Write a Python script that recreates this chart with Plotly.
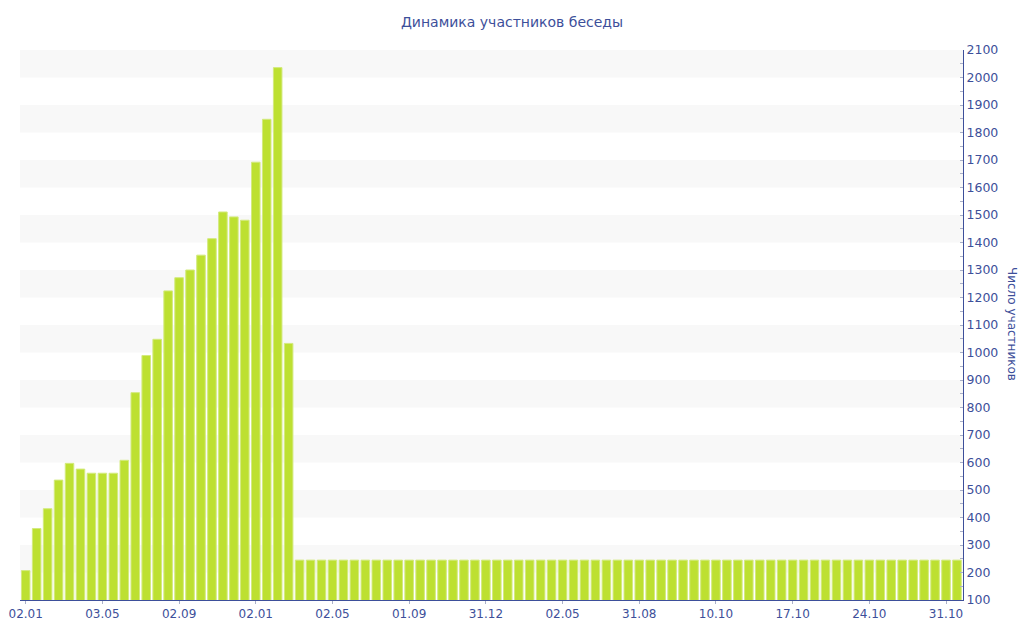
import plotly.graph_objects as go

# Data
peak_values = [207, 360, 432, 536, 597, 576, 561, 561, 561, 608, 854, 989, 1048,
               1224, 1272, 1300, 1354, 1414, 1511, 1493, 1481, 1692, 1848, 2036, 1033]
flat_value = 245
flat_count = 61
values = peak_values + [flat_value] * flat_count
positions = list(range(len(values)))

tick_labels = ["02.01", "03.05", "02.09", "02.01", "02.05", "01.09", "31.12",
               "02.05", "31.08", "10.10", "17.10", "24.10", "31.10"]
tick_positions = [i * 7 for i in range(len(tick_labels))]

band_starts = list(range(200, 2100, 200))

title_text = "Динамика участников беседы"
y_title = "Число участников"

BLUE = "#3d4f9a"
BAR = "#bde031"

fig = go.Figure()
fig.add_trace(go.Bar(
    x=positions, y=values, width=0.78,
    marker=dict(color=BAR, line=dict(color="#d3ea7e", width=1)),
    hoverinfo="y",
))

shapes = []
for b in band_starts:
    shapes.append(dict(type="rect", xref="paper", yref="y", x0=0, x1=1, y0=b, y1=b + 100,
                       fillcolor="#f8f8f8", line=dict(width=0), layer="below"))

fig.update_layout(
    width=1024, height=640,
    margin=dict(l=20, r=61, t=50, b=40, autoexpand=False),
    paper_bgcolor="white", plot_bgcolor="white",
    showlegend=False,
    bargap=0.2,
    shapes=shapes,
    title=dict(text=title_text, x=0.5, xanchor="center", y=1 - 22 / 640, yanchor="middle",
               font=dict(family="DejaVu Sans", size=14, color=BLUE)),
    font=dict(family="DejaVu Sans", size=12, color=BLUE),
    xaxis=dict(
        range=[-0.52, 85.55], tickmode="array", tickvals=tick_positions, ticktext=tick_labels,
        showgrid=False, zeroline=False, showline=True, linecolor=BLUE, linewidth=1,
        ticks="outside", ticklen=3, tickcolor="#aab0c8", automargin=False,
        tickfont=dict(family="DejaVu Sans", size=12, color=BLUE),
    ),
    yaxis=dict(
        side="right", range=[100, 2100], dtick=100, tick0=100,
        showgrid=False, zeroline=False, showline=True, linecolor=BLUE, linewidth=1,
        ticks="inside", ticklen=3, tickcolor="#aab0c8", automargin=False,
        minor=dict(dtick=50, ticks="inside", ticklen=3, tickcolor="#aab0c8", showgrid=False),
        tickfont=dict(family="DejaVu Sans", size=12.5, color=BLUE),
    ),
    annotations=[dict(text=y_title, xref="paper", yref="paper", x=1 + (1012 - 963) / 943,
                      y=(600 - 324) / 550, textangle=90, showarrow=False,
                      xanchor="center", yanchor="middle",
                      font=dict(family="DejaVu Sans", size=12, color=BLUE))],
)

fig.write_html("out.html", config={"displayModeBar": False},
               post_script="document.body.style.margin='0';document.body.style.overflow='hidden';")
